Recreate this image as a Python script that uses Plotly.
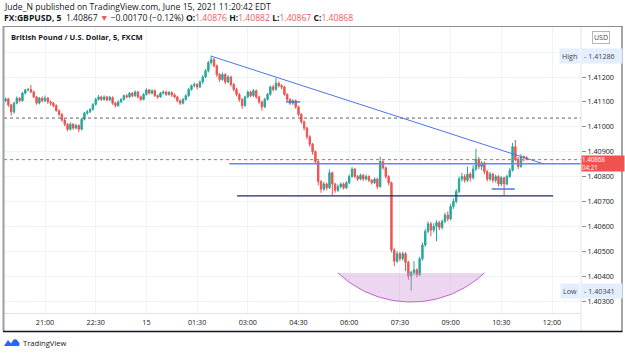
import math
import pandas as pd
import plotly.graph_objects as go

# ---------------- data ----------------
first_bar = "2021-06-14 19:45"
bar_minutes = 5

opens = [1.41100,1.41105,1.41112,1.41088,1.41060,1.41095,1.41115,1.41105,1.41135,1.41148,
         1.41150,1.41140,1.41120,1.41095,1.41115,1.41105,1.41115,1.41100,1.41095,1.41085,
         1.41065,1.41050,1.41027,1.41010,1.40990,1.41010,1.40995,1.41005,1.40990,1.41030,
         1.41055,1.41060,1.41070,1.41090,1.41110,1.41120,1.41110,1.41120,1.41108,1.41118,
         1.41095,1.41085,1.41100,1.41110,1.41125,1.41120,1.41135,1.41125,1.41140,1.41120,
         1.41110,1.41130,1.41148,1.41135,1.41145,1.41125,1.41120,1.41135,1.41140,1.41130,
         1.41138,1.41128,1.41120,1.41105,1.41095,1.41110,1.41125,1.41150,1.41165,1.41170,
         1.41160,1.41180,1.41200,1.41225,1.41258,1.41270,1.41245,1.41210,1.41190,1.41210,
         1.41180,1.41200,1.41170,1.41150,1.41130,1.41110,1.41085,1.41120,1.41140,1.41125,
         1.41145,1.41120,1.41100,1.41080,1.41110,1.41130,1.41160,1.41150,1.41175,1.41165,
         1.41160,1.41130,1.41110,1.41095,1.41105,1.41080,1.41050,1.41020,1.40995,1.40960,
         1.40930,1.40900,1.40860,1.40780,1.40750,1.40770,1.40755,1.40815,1.40770,1.40745,
         1.40760,1.40770,1.40755,1.40775,1.40800,1.40830,1.40800,1.40790,1.40805,1.40790,
         1.40800,1.40785,1.40775,1.40790,1.40760,1.40860,1.40835,1.40800,1.40775,1.40505,
         1.40460,1.40490,1.40470,1.40490,1.40455,1.40400,1.40415,1.40425,1.40405,1.40470,
         1.40525,1.40580,1.40610,1.40585,1.40600,1.40615,1.40595,1.40620,1.40645,1.40630,
         1.40680,1.40700,1.40740,1.40790,1.40800,1.40785,1.40810,1.40795,1.40830,1.40870,
         1.40840,1.40855,1.40820,1.40790,1.40810,1.40785,1.40800,1.40770,1.40795,1.40770,
         1.40800,1.40825,1.40920,1.40870,1.40840,1.40880,1.40876]

highs = [1.41112,1.41118,1.41116,1.41092,1.41100,1.41122,1.41120,1.41140,1.41152,1.41156,
         1.41168,1.41145,1.41124,1.41120,1.41122,1.41125,1.41120,1.41106,1.41100,1.41090,
         1.41070,1.41055,1.41032,1.41015,1.41018,1.41015,1.41012,1.41010,1.41035,1.41060,
         1.41068,1.41075,1.41095,1.41116,1.41128,1.41125,1.41126,1.41124,1.41124,1.41122,
         1.41100,1.41106,1.41115,1.41130,1.41132,1.41140,1.41140,1.41146,1.41144,1.41125,
         1.41136,1.41155,1.41152,1.41150,1.41150,1.41130,1.41140,1.41146,1.41145,1.41144,
         1.41142,1.41134,1.41125,1.41110,1.41116,1.41130,1.41156,1.41170,1.41178,1.41176,
         1.41186,1.41208,1.41232,1.41265,1.41286,1.41278,1.41250,1.41216,1.41218,1.41215,
         1.41208,1.41205,1.41176,1.41156,1.41135,1.41115,1.41125,1.41146,1.41145,1.41152,
         1.41150,1.41125,1.41105,1.41116,1.41136,1.41166,1.41168,1.41196,1.41182,1.41172,
         1.41165,1.41135,1.41115,1.41110,1.41110,1.41085,1.41055,1.41025,1.41000,1.40966,
         1.40935,1.40905,1.40866,1.40786,1.40778,1.40776,1.40828,1.40820,1.40775,1.40768,
         1.40776,1.40776,1.40782,1.40808,1.40838,1.40835,1.40806,1.40812,1.40810,1.40808,
         1.40805,1.40790,1.40796,1.40795,1.40880,1.40866,1.40840,1.40806,1.40780,1.40512,
         1.40500,1.40498,1.40498,1.40496,1.40462,1.40422,1.40460,1.40432,1.40478,1.40535,
         1.40590,1.40620,1.40618,1.40612,1.40625,1.40622,1.40628,1.40655,1.40660,1.40690,
         1.40712,1.40750,1.40800,1.40815,1.40810,1.40840,1.40818,1.40845,1.40912,1.40878,
         1.40862,1.40860,1.40826,1.40818,1.40815,1.40808,1.40806,1.40802,1.40800,1.40808,
         1.40835,1.40935,1.40947,1.40878,1.40890,1.40885,1.40882]

lows = [1.41092,1.41098,1.41080,1.41045,1.41052,1.41090,1.41098,1.41100,1.41130,1.41142,
        1.41135,1.41115,1.41088,1.41090,1.41098,1.41100,1.41092,1.41085,1.41078,1.41060,
        1.41042,1.41020,1.41002,1.40982,1.40985,1.40988,1.40990,1.40978,1.40985,1.41025,
        1.41048,1.41055,1.41065,1.41085,1.41105,1.41104,1.41105,1.41102,1.41104,1.41088,
        1.41078,1.41080,1.41096,1.41105,1.41114,1.41116,1.41118,1.41120,1.41114,1.41104,
        1.41106,1.41126,1.41130,1.41130,1.41120,1.41112,1.41116,1.41130,1.41124,1.41125,
        1.41120,1.41114,1.41098,1.41088,1.41090,1.41105,1.41120,1.41145,1.41158,1.41150,
        1.41155,1.41172,1.41195,1.41218,1.41250,1.41238,1.41200,1.41180,1.41185,1.41172,
        1.41175,1.41162,1.41142,1.41122,1.41100,1.41072,1.41080,1.41115,1.41118,1.41120,
        1.41112,1.41092,1.41065,1.41075,1.41105,1.41125,1.41142,1.41145,1.41158,1.41150,
        1.41124,1.41100,1.41088,1.41088,1.41072,1.41042,1.41012,1.40985,1.40950,1.40920,
        1.40888,1.40850,1.40765,1.40735,1.40742,1.40745,1.40750,1.40726,1.40735,1.40738,
        1.40752,1.40748,1.40750,1.40770,1.40795,1.40794,1.40782,1.40785,1.40782,1.40784,
        1.40778,1.40768,1.40770,1.40750,1.40755,1.40828,1.40792,1.40765,1.40495,1.40440,
        1.40452,1.40460,1.40462,1.40420,1.40385,1.40341,1.40405,1.40395,1.40400,1.40462,
        1.40518,1.40572,1.40560,1.40575,1.40540,1.40585,1.40588,1.40612,1.40620,1.40625,
        1.40670,1.40692,1.40732,1.40780,1.40775,1.40778,1.40780,1.40788,1.40822,1.40830,
        1.40826,1.40810,1.40780,1.40782,1.40775,1.40776,1.40760,1.40762,1.40726,1.40765,
        1.40795,1.40820,1.40860,1.40830,1.40835,1.40860,1.40867]

closes = [1.41105,1.41112,1.41088,1.41060,1.41095,1.41115,1.41105,1.41135,1.41148,1.41150,
          1.41140,1.41120,1.41095,1.41115,1.41105,1.41115,1.41100,1.41095,1.41085,1.41065,
          1.41050,1.41027,1.41010,1.40990,1.41010,1.40995,1.41005,1.40990,1.41030,1.41055,
          1.41060,1.41070,1.41090,1.41110,1.41120,1.41110,1.41120,1.41108,1.41118,1.41095,
          1.41085,1.41100,1.41110,1.41125,1.41120,1.41135,1.41125,1.41140,1.41120,1.41110,
          1.41130,1.41148,1.41135,1.41145,1.41125,1.41120,1.41135,1.41140,1.41130,1.41138,
          1.41128,1.41120,1.41105,1.41095,1.41110,1.41125,1.41150,1.41165,1.41170,1.41160,
          1.41180,1.41200,1.41225,1.41258,1.41270,1.41245,1.41210,1.41190,1.41210,1.41180,
          1.41200,1.41170,1.41150,1.41130,1.41110,1.41085,1.41120,1.41140,1.41125,1.41145,
          1.41120,1.41100,1.41080,1.41110,1.41130,1.41160,1.41150,1.41175,1.41165,1.41160,
          1.41130,1.41110,1.41095,1.41105,1.41080,1.41050,1.41020,1.40995,1.40960,1.40930,
          1.40900,1.40860,1.40780,1.40750,1.40770,1.40755,1.40815,1.40770,1.40745,1.40760,
          1.40770,1.40755,1.40775,1.40800,1.40830,1.40800,1.40790,1.40805,1.40790,1.40800,
          1.40785,1.40775,1.40790,1.40760,1.40860,1.40835,1.40800,1.40775,1.40505,1.40460,
          1.40490,1.40470,1.40490,1.40455,1.40400,1.40415,1.40425,1.40405,1.40470,1.40525,
          1.40580,1.40610,1.40585,1.40600,1.40615,1.40595,1.40620,1.40645,1.40630,1.40680,
          1.40700,1.40740,1.40790,1.40800,1.40785,1.40810,1.40795,1.40830,1.40870,1.40840,
          1.40855,1.40820,1.40790,1.40810,1.40785,1.40800,1.40770,1.40795,1.40770,1.40800,
          1.40825,1.40920,1.40870,1.40840,1.40880,1.40876,1.40868]

time_tick_vals = ["2021-06-14 21:00", "2021-06-14 22:30", "2021-06-15 00:00", "2021-06-15 01:30",
                  "2021-06-15 03:00", "2021-06-15 04:30", "2021-06-15 06:00", "2021-06-15 07:30",
                  "2021-06-15 09:00", "2021-06-15 10:30", "2021-06-15 12:00"]
time_tick_text = ["21:00", "22:30", "15", "01:30", "03:00", "04:30", "06:00", "07:30",
                  "09:00", "10:30", "12:00"]
price_ticks = [1.40300, 1.40400, 1.40500, 1.40600, 1.40700, 1.40800, 1.40900,
               1.41000, 1.41100, 1.41200, 1.41300]
hidden_price_labels = [1.41300]  # covered by the "High" badge in the picture

x_view = ["2021-06-14 19:47:13", "2021-06-15 12:51:29"]
y_view = [1.402518, 1.414009]

session_high = 1.41286
session_low = 1.40341
last_price = 1.40868
header_price = 1.40867
header_change = "−0.00170 (−0.12%)"
prev_close = 1.41035
countdown = "04:21"

# drawings on the chart
trend_start = ("2021-06-15 01:55", 1.41284)
trend_end = ("2021-06-15 11:45", 1.40851)
resistance = (1.40851, "2021-06-15 02:27", x_view[1])
support = (1.40722, "2021-06-15 02:41", "2021-06-15 12:02")
short_levels = [(1.41100, "2021-06-15 04:08", "2021-06-15 04:33"),
                (1.40750, "2021-06-15 10:13", "2021-06-15 10:54")]
arc_left, arc_right = "2021-06-15 05:40", "2021-06-15 10:00"
arc_chord, arc_bottom = 1.40413, 1.40296
arc_ratio = 1.422  # radius / half chord

# ---------------- figure ----------------
W, H = 625, 354
ML, MR, MT, MB = 4, 44, 27, 41
PW, PH = W - ML - MR, H - MT - MB

def px(xp):
    return (xp - ML) / PW

def py(yp):
    return (H - MB - yp) / PH

times = pd.date_range(first_bar, periods=len(closes), freq=f"{bar_minutes}min")

# arc outline
t0, t1 = pd.Timestamp(arc_left), pd.Timestamp(arc_right)
mid, half = t0 + (t1 - t0) / 2, (t1 - t0) / 2
n = 60
arc_t, arc_p = [], []
den = arc_ratio - math.sqrt(arc_ratio ** 2 - 1)
for k in range(n + 1):
    u = -1 + 2 * k / n
    v = (arc_ratio - math.sqrt(arc_ratio ** 2 - u * u)) / den
    arc_t.append(mid + half * u)
    arc_p.append(arc_bottom + (arc_chord - arc_bottom) * v)

fig = go.Figure()
fig.add_trace(go.Scatter(x=arc_t + [arc_t[0]], y=arc_p + [arc_p[0]], mode="lines",
                         fill="toself", fillcolor="rgba(206,147,216,0.38)",
                         line=dict(width=0), hoverinfo="skip", showlegend=False))
fig.add_trace(go.Scatter(x=arc_t, y=arc_p, mode="lines",
                         line=dict(color="#ba68c8", width=1), hoverinfo="skip", showlegend=False))
fig.add_trace(go.Candlestick(
    x=times, open=opens, high=highs, low=lows, close=closes,
    increasing=dict(line=dict(color="#26a69a", width=1), fillcolor="#26a69a"),
    decreasing=dict(line=dict(color="#ef5350", width=1), fillcolor="#ef5350"),
    showlegend=False, hoverinfo="skip"))

shapes = []
# level lines
shapes.append(dict(type="line", xref="x", yref="y", x0=x_view[0], x1=x_view[1],
                   y0=prev_close, y1=prev_close, line=dict(color="#5d606b", width=1, dash="dot")))
shapes.append(dict(type="line", xref="x", yref="y", x0=x_view[0], x1=x_view[1],
                   y0=last_price, y1=last_price, line=dict(color="#ef5350", width=1, dash="dot")))
shapes.append(dict(type="line", xref="x", yref="y", x0=resistance[1], x1=resistance[2],
                   y0=resistance[0], y1=resistance[0], line=dict(color="#5b8def", width=1.5)))
shapes.append(dict(type="line", xref="x", yref="y", x0=support[1], x1=support[2],
                   y0=support[0], y1=support[0], line=dict(color="#1f2a5c", width=1.2)))
for lvl, a, b in short_levels:
    shapes.append(dict(type="line", xref="x", yref="y", x0=a, x1=b, y0=lvl, y1=lvl,
                       line=dict(color="#4a78e8", width=1.5)))
shapes.append(dict(type="line", xref="x", yref="y", x0=trend_start[0], x1=trend_end[0],
                   y0=trend_start[1], y1=trend_end[1], line=dict(color="#4a78e8", width=1)))
# frame
shapes.append(dict(type="line", xref="paper", yref="paper", x0=px(581), x1=px(581),
                   y0=py(26), y1=py(331), line=dict(color="#e0e3eb", width=1)))
shapes.append(dict(type="line", xref="paper", yref="paper", x0=px(4), x1=px(622),
                   y0=py(26.5), y1=py(26.5), line=dict(color="#8d8f96", width=1.2)))
shapes.append(dict(type="line", xref="paper", yref="paper", x0=px(3.5), x1=px(3.5),
                   y0=py(26), y1=py(331.5), line=dict(color="#9c9ea4", width=2)))
shapes.append(dict(type="line", xref="paper", yref="paper", x0=px(622), x1=px(622),
                   y0=py(26), y1=py(331.5), line=dict(color="#4a4c52", width=1)))
shapes.append(dict(type="line", xref="paper", yref="paper", x0=px(3), x1=px(622.5),
                   y0=py(331.5), y1=py(331.5), line=dict(color="#131722", width=1.5)))
# TradingView logo mark
logo = (f"M {px(4)},{py(346)} L {px(8)},{py(340)} L {px(11)},{py(343.5)} L {px(13.5)},{py(339.5)} "
        f"Q {px(17)},{py(338.5)} {px(18)},{py(341.5)} Q {px(20.5)},{py(343)} {px(19)},{py(346)} Z")
shapes.append(dict(type="path", xref="paper", yref="paper", path=logo,
                   fillcolor="#2962ff", line=dict(width=0)))

FONT = "Open Sans"
DARK = "#131722"
RED = "#f05a5a"
ann = []
ann.append(dict(xref="paper", yref="paper", x=px(2), y=py(6.5), xanchor="left", yanchor="middle",
                showarrow=False, font=dict(family=FONT, size=8.6, color=DARK),
                text="Jude_N published on TradingView.com, June 15, 2021 11:20:42 EDT"))
hdr2 = (f"<b>FX:GBPUSD, 5</b>  {header_price:.5f} <span style='color:{RED}'>▼</span> "
        f"{header_change} <b>O:</b><span style='color:{RED}'>{opens[-1]:.5f}</span> "
        f"<b>H:</b><span style='color:{RED}'>{highs[-1]:.5f}</span> "
        f"<b>L:</b><span style='color:{RED}'>{lows[-1]:.5f}</span> "
        f"<b>C:</b><span style='color:{RED}'>{closes[-1]:.5f}</span>")
ann.append(dict(xref="paper", yref="paper", x=px(2), y=py(17.5), xanchor="left", yanchor="middle",
                showarrow=False, font=dict(family=FONT, size=8.6, color=DARK), text=hdr2))
ann.append(dict(xref="paper", yref="paper", x=px(9), y=py(37.5), xanchor="left", yanchor="middle",
                showarrow=False, font=dict(family=FONT, size=7.6, color=DARK),
                text="<b>British Pound / U.S. Dollar, 5, FXCM</b>"))
ann.append(dict(xref="paper", yref="paper", x=px(20.5), y=py(342.5), xanchor="left", yanchor="middle",
                showarrow=False, font=dict(family=FONT, size=7.6, color=DARK), text="TradingView"))
# USD badge
ann.append(dict(xref="paper", yref="paper", x=px(600.5), y=py(37), xanchor="center", yanchor="middle",
                showarrow=False, font=dict(family=FONT, size=7, color="#434651"), text="USD",
                bgcolor="white", bordercolor="#b2b5be", borderwidth=1, borderpad=1))
# high / low badges
for lab, val in (("High", session_high), ("Low", session_low)):
    ann.append(dict(xref="paper", yref="y", x=px(580), y=val, xanchor="right", yanchor="middle",
                    showarrow=False, font=dict(family=FONT, size=7.2, color="#434651"),
                    text=lab, bgcolor="#e3effd", borderpad=2))
    ann.append(dict(xref="paper", yref="y", x=px(581), y=val, xanchor="left", yanchor="middle",
                    showarrow=False, font=dict(family=FONT, size=7.2, color="#434651"),
                    text=f"- {val:.5f}", bgcolor="#e3effd", borderpad=2, width=36, align="left"))
# last price badge
ann.append(dict(xref="paper", yref="y", x=px(581), y=last_price, xanchor="left", yanchor="top",
                yshift=5, showarrow=False, font=dict(family=FONT, size=6.2, color="white"),
                text=f"{last_price:.5f}<br>{countdown}", bgcolor="#ef5350", borderpad=0,
                width=42, height=15, align="left"))

fig.update_layout(
    width=W, height=H, margin=dict(l=ML, r=MR, t=MT, b=MB),
    paper_bgcolor="white", plot_bgcolor="white",
    shapes=shapes, annotations=ann, showlegend=False,
    xaxis=dict(type="date", range=x_view, rangeslider=dict(visible=False),
               tickvals=time_tick_vals, ticktext=time_tick_text,
               showgrid=True, gridcolor="#f0f3fa", gridwidth=1,
               ticks="outside", ticklen=2, tickcolor="rgba(0,0,0,0)",
               tickfont=dict(family=FONT, size=7.2, color=DARK),
               showline=True, linecolor="#e0e3eb", linewidth=1, zeroline=False, fixedrange=True),
    yaxis=dict(side="right", range=y_view, tickvals=price_ticks,
               ticktext=["" if v in hidden_price_labels else f"{v:.5f}" for v in price_ticks],
               showgrid=True, gridcolor="#f0f3fa", gridwidth=1,
               ticks="outside", ticklen=4, tickcolor="#8c8f99",
               tickfont=dict(family=FONT, size=7.2, color=DARK),
               showline=False, zeroline=False, fixedrange=True),
)

fig.write_html("out.html")
